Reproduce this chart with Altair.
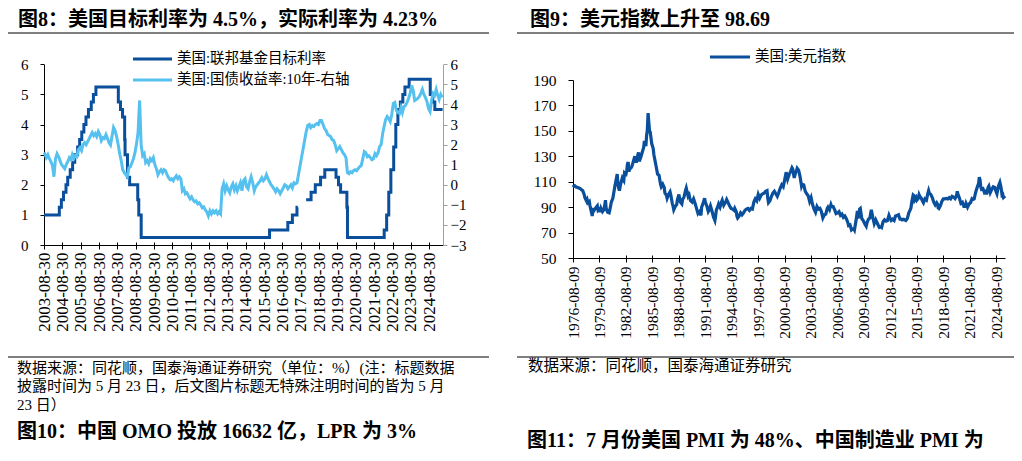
import altair as alt
import pandas as pd

DARK = "#0A4F9C"
LIGHT = "#56C1EF"
GRAY = "#7F7F7F"
NUM_FONT = "Liberation Serif"
MIX_FONT = "Liberation Serif, Noto Sans CJK SC"

# ---------------- Figure 8: US policy rate & 10Y yield ----------------
fed_dates = [
    "2003-08-30", "2004-06-30", "2004-08-10", "2004-09-21", "2004-11-10", "2004-12-14",
    "2005-02-02", "2005-03-22", "2005-05-03", "2005-06-30", "2005-08-09", "2005-09-20",
    "2005-11-01", "2005-12-13", "2006-01-31", "2006-03-28", "2006-05-10", "2006-06-29",
    "2007-09-18", "2007-10-31", "2007-12-11", "2008-01-22", "2008-01-30", "2008-03-18",
    "2008-04-30", "2008-10-08", "2008-10-29", "2008-12-16", "2015-12-16", "2016-12-14",
    "2017-03-15", "2017-06-14", "2017-06-30", "2017-07-10", "2017-12-14", "2018-03-22",
    "2018-06-14", "2018-09-27", "2018-12-20", "2019-08-01", "2019-09-19", "2019-10-31",
    "2020-03-04", "2020-03-16", "2022-03-17", "2022-05-05", "2022-06-16", "2022-07-28",
    "2022-09-22", "2022-11-03", "2022-12-15", "2023-02-02", "2023-03-23", "2023-05-04",
    "2023-07-27", "2024-09-19", "2024-11-08", "2024-12-19", "2025-05-23",
]
fed_rates = [
    1.0, 1.25, 1.5, 1.75, 2.0, 2.25,
    2.5, 2.75, 3.0, 3.25, 3.5, 3.75,
    4.0, 4.25, 4.5, 4.75, 5.0, 5.25,
    4.75, 4.5, 4.25, 3.5, 3.0, 2.25,
    2.0, 1.5, 1.0, 0.25, 0.5, 0.75,
    1.0, 1.25, 1.25, None, 1.5, 1.75,
    2.0, 2.25, 2.5, 2.25, 2.0, 1.75,
    1.25, 0.25, 0.5, 1.0, 1.75, 2.5,
    3.25, 4.0, 4.5, 4.75, 5.0, 5.25,
    5.5, 5.0, 4.75, 4.5, 4.5,
]

ust_first_date = "2003-08-30"
ust_monthly_from = "2003-09-15"
ust_values = [
    1.6,
    1.55, 1.35, 1.5, 1.3,                                                   # 2003 Sep-Dec
    1.15, 0.95, 0.4, 1.3, 1.55, 1.4, 1.2, 1.0, 0.9, 0.8, 1.0, 1.15,         # 2004
    1.35, 1.25, 1.5, 1.3, 1.45, 1.4, 1.75, 1.85, 1.7, 2.0, 2.1, 2.0,        # 2005
    2.15, 2.3, 2.45, 2.6, 2.45, 2.55, 2.4, 2.65, 2.5, 2.2, 2.35, 2.3,       # 2006
    2.5, 2.3, 2.1, 1.98, 2.4, 2.85, 2.7, 2.4, 2.0, 1.55, 1.2, 0.75,         # 2007
    0.6, 0.5, 0.4, 0.85, 0.9, 1.1, 1.3, 1.6, 2.05, 2.6, 4.2, 2.0,           # 2008
    1.45, 1.55, 1.1, 1.2, 1.05, 1.3, 1.2, 1.35, 1.0, 0.8, 0.5, 0.65,        # 2009
    0.75, 0.6, 0.75, 0.7, 0.5, 0.35, 0.25, 0.3, 0.2, 0.35, 0.45, 0.3,       # 2010
    0.4, 0.3, -0.3, -0.2, -0.45, -0.4, -0.55, -0.7, -0.6, -0.75, -0.85, -0.8,   # 2011
    -0.95, -0.9, -1.0, -1.15, -1.1, -1.25, -1.35, -1.55, -1.3, -1.45, -1.3, -1.4,  # 2012
    -1.3, -1.45, -1.35, -1.45, -0.2, 0.05, -0.3, -0.05, -0.25, -0.4, -0.1, 0.05,  # 2013
    -0.25, -0.05, -0.3, -0.1, 0.1, -0.3, 0.2, 0.3, -0.1, -0.2, 0.15, 0.4,   # 2014
    0.1, -0.3, -0.1, 0.0, 0.1, 0.2, 0.35, 0.2, 0.3, 0.5, 0.3, 0.15,         # 2015
    0.0, -0.1, -0.2, -0.35, -0.2, -0.3, -0.45, -0.3, -0.15, 0.0, -0.05, -0.2,  # 2016
    -0.1, 0.0, -0.15, 0.1, 0.05, 0.1, None, None, None, None, None, 2.65,   # 2017
    2.95, 3.0, 2.85, 2.95, 2.9, 3.0, 3.05, 3.0, 3.2, 3.2, 3.0, 2.8,         # 2018
    2.7, 2.5, 2.45, 2.4, 2.25, 2.2, 2.0, 1.7, 1.8, 1.9, 1.75, 1.6,          # 2019
    1.5, 1.35, 0.6, 0.55, 0.65, 0.6, 0.7, 0.75, 0.7, 0.8, 0.9, 0.95,        # 2020
    1.3, 1.65, 1.6, 1.4, 1.45, 1.35, 1.25, 1.3, 1.55, 1.45, 1.6, 1.9,       # 2021
    2.0, 2.55, 2.9, 3.25, 3.4, 3.3, 3.15, 3.5, 4.05, 4.1, 3.7, 3.6,         # 2022
    3.55, 3.85, 3.6, 3.9, 3.95, 4.1, 4.3, 4.55, 4.95, 4.7, 4.2, 4.25,       # 2023
    4.3, 4.4, 4.55, 4.75, 4.5, 4.35, 4.15, 3.8, 3.65, 4.2, 4.55, 4.45,      # 2024
    4.75, 4.45, 4.25, 4.5, 4.35,                                            # 2025
]
left_tick_years = list(range(2003, 2025))
left_y_ticks = [0, 1, 2, 3, 4, 5, 6]
right_y_ticks = [-3, -2, -1, 0, 1, 2, 3, 4, 5, 6]

# ---------------- Figure 9: US dollar index ----------------
dxy_months = [
    "1976-08", "1976-09", "1976-10", "1976-12",
    "1977-02", "1977-04", "1977-06", "1977-07", "1977-09", "1977-11", "1977-12",
    "1978-02", "1978-03", "1978-04", "1978-06", "1978-07", "1978-08", "1978-10", "1978-11", "1978-12",
    "1979-01", "1979-03", "1979-05", "1979-06", "1979-08", "1979-09", "1979-10", "1979-12",
    "1980-02", "1980-04", "1980-05", "1980-07", "1980-09", "1980-10", "1980-12",
    "1981-02", "1981-03", "1981-05", "1981-06", "1981-08", "1981-09", "1981-10", "1981-11", "1981-12",
    "1982-01", "1982-03", "1982-05", "1982-06", "1982-08", "1982-09", "1982-10", "1982-11", "1982-12",
    "1983-01", "1983-03", "1983-04", "1983-06", "1983-08", "1983-09", "1983-10", "1983-12",
    "1984-01", "1984-02", "1984-04", "1984-06", "1984-08", "1984-09", "1984-10", "1984-11", "1984-12",
    "1985-01", "1985-02", "1985-03", "1985-04", "1985-05", "1985-07", "1985-09", "1985-10", "1985-12",
    "1986-01", "1986-03", "1986-05", "1986-07", "1986-08", "1986-10", "1986-12",
    "1987-01", "1987-03", "1987-04", "1987-06", "1987-08", "1987-09", "1987-11", "1987-12",
    "1988-01", "1988-03", "1988-05", "1988-06", "1988-08", "1988-10", "1988-12",
    "1989-01", "1989-03", "1989-05", "1989-06", "1989-08", "1989-09", "1989-11", "1989-12",
    "1990-02", "1990-04", "1990-06", "1990-08", "1990-10", "1990-12",
    "1991-02", "1991-03", "1991-05", "1991-07", "1991-08", "1991-10", "1991-12",
    "1992-01", "1992-03", "1992-05", "1992-07", "1992-09", "1992-10", "1992-11", "1992-12",
    "1993-02", "1993-04", "1993-06", "1993-07", "1993-09", "1993-11", "1993-12",
    "1994-01", "1994-03", "1994-05", "1994-07", "1994-09", "1994-11", "1994-12",
    "1995-02", "1995-03", "1995-04", "1995-06", "1995-08", "1995-10", "1995-12",
    "1996-02", "1996-04", "1996-06", "1996-08", "1996-10", "1996-12",
    "1997-02", "1997-04", "1997-06", "1997-08", "1997-10", "1997-12",
    "1998-02", "1998-04", "1998-06", "1998-08", "1998-09", "1998-10", "1998-12",
    "1999-02", "1999-04", "1999-06", "1999-08", "1999-10", "1999-12",
    "2000-02", "2000-04", "2000-06", "2000-08", "2000-10", "2000-12",
    "2001-02", "2001-04", "2001-06", "2001-07", "2001-09", "2001-11", "2001-12",
    "2002-01", "2002-03", "2002-05", "2002-07", "2002-08", "2002-10", "2002-12",
    "2003-02", "2003-04", "2003-06", "2003-08", "2003-10", "2003-12",
    "2004-02", "2004-04", "2004-06", "2004-08", "2004-10", "2004-12",
    "2005-02", "2005-04", "2005-06", "2005-07", "2005-09", "2005-11", "2005-12",
    "2006-02", "2006-04", "2006-06", "2006-08", "2006-10", "2006-12",
    "2007-02", "2007-04", "2007-06", "2007-08", "2007-10", "2007-11",
    "2008-01", "2008-03", "2008-04", "2008-06", "2008-07", "2008-09", "2008-11", "2008-12",
    "2009-02", "2009-03", "2009-05", "2009-07", "2009-09", "2009-11", "2009-12",
    "2010-02", "2010-04", "2010-06", "2010-08", "2010-10", "2010-12",
    "2011-02", "2011-04", "2011-05", "2011-07", "2011-08", "2011-10", "2011-12",
    "2012-02", "2012-04", "2012-06", "2012-07", "2012-09", "2012-11",
    "2013-01", "2013-03", "2013-05", "2013-07", "2013-09", "2013-11", "2013-12",
    "2014-02", "2014-04", "2014-05", "2014-07", "2014-09", "2014-11", "2014-12",
    "2015-01", "2015-03", "2015-04", "2015-05", "2015-07", "2015-08", "2015-10", "2015-11", "2015-12",
    "2016-02", "2016-04", "2016-05", "2016-07", "2016-09", "2016-11", "2016-12",
    "2017-01", "2017-03", "2017-05", "2017-07", "2017-09", "2017-11", "2017-12",
    "2018-01", "2018-02", "2018-04", "2018-06", "2018-08", "2018-10", "2018-12",
    "2019-02", "2019-04", "2019-06", "2019-08", "2019-10", "2019-12",
    "2020-02", "2020-03", "2020-04", "2020-06", "2020-08", "2020-10", "2020-12",
    "2021-02", "2021-03", "2021-05", "2021-07", "2021-09", "2021-11", "2021-12",
    "2022-02", "2022-04", "2022-05", "2022-07", "2022-08", "2022-09", "2022-10", "2022-11", "2022-12",
    "2023-02", "2023-04", "2023-06", "2023-07", "2023-09", "2023-10", "2023-12",
    "2024-02", "2024-04", "2024-06", "2024-08", "2024-09", "2024-11", "2024-12",
    "2025-01", "2025-02", "2025-03", "2025-04", "2025-05", "2025-06", "2025-07", "2025-08",
]
dxy_values = [
    107.5, 106.5, 106.8, 105.8,
    105.5, 105, 104.5, 103.8, 103, 100, 97.5,
    95, 96, 93.5, 94.5, 91, 88.5, 83, 89.5, 87,
    88, 89.5, 91, 87.5, 88.5, 86, 89, 86.5,
    88, 95.5, 89, 86, 85.5, 88, 94,
    97, 100, 107, 110, 116, 108, 105, 103, 106,
    109, 113, 111, 117, 116, 119, 124, 125.5, 118,
    120, 121, 122, 126, 130, 127, 125, 131,
    133, 126, 129, 133, 137, 142, 140, 138, 146,
    151, 164, 157, 150, 149, 140, 136, 131, 125,
    122, 116, 115, 108, 106, 108, 105.5,
    101, 99.5, 97, 100, 102, 99.5, 93, 91,
    88, 90.5, 92, 96, 100, 94, 92.5,
    96, 98, 103, 105, 100, 102, 96.5, 95,
    94, 96.5, 93, 89, 85, 86.5,
    83.5, 90, 93, 97, 94, 91, 86.5,
    87.5, 91, 87, 82.5, 79.5, 83, 88, 89,
    92.5, 90, 94, 95.5, 91.5, 93.5, 94.5,
    96, 93.5, 91, 89, 88.5, 87.5, 89,
    86.5, 83, 81.5, 83, 85.5, 84, 85.5,
    87.5, 88.5, 89, 87.5, 89, 88.5,
    94, 96.5, 95, 100, 97, 99.5,
    100.5, 101, 102.5, 103, 97, 93.5, 95,
    98.5, 101, 102.5, 100.5, 98.5, 101.5,
    105, 107.5, 106, 111.5, 117.5, 112,
    115.5, 118, 121, 120, 113, 117.5, 118.5,
    120.5, 119, 114, 106.5, 108, 107.5, 102.5,
    100.5, 99, 94.5, 97.5, 92, 88.5,
    86, 90.5, 88.5, 89, 86.5, 81.5,
    84, 84.5, 89, 90, 88, 92, 90.5,
    90.5, 88, 85, 85.5, 86.5, 83.5,
    84.5, 82, 83, 81, 78, 75.5,
    76, 72, 72.5, 73, 72, 79, 87, 81,
    88.5, 89, 81, 79.5, 77, 75, 77.5,
    80.5, 81.5, 88, 82, 77, 80,
    77.5, 75, 74, 74.5, 74, 78.5, 80,
    79, 79.5, 83.5, 82, 79.5, 80.5,
    79.5, 83, 83.5, 84, 80.5, 80.5, 80,
    80.5, 79.8, 79.5, 81, 85.5, 88, 89.5,
    94, 99.5, 99, 95.5, 97.5, 95.5, 97, 99.8, 98.5,
    97, 94.5, 93.5, 96.5, 95.5, 101, 103,
    101, 100, 97.5, 94, 91.8, 93.5, 92.5,
    89.5, 89, 91, 94.5, 96.5, 96.5, 96.8,
    96.5, 97.5, 96.5, 98.5, 98, 96.8,
    99, 102.5, 100, 97, 93, 93.8, 90.5,
    90.5, 92.8, 90, 92.5, 93.5, 96.5, 96,
    96.5, 101.5, 103.5, 107, 108.5, 113.5, 111.5, 106, 104,
    104.5, 101.5, 102.5, 100, 105.5, 106.5, 101.5,
    104, 106, 105.5, 102, 100.5, 106.5, 108,
    109.5, 107, 104, 99.5, 100, 97.5, 98, 98.7,
]
dxy_tick_years = list(range(1976, 2025, 3))
dxy_y_ticks = [50, 70, 90, 110, 130, 150, 170, 190]

# ---------------- tables ----------------
fed_df = pd.DataFrame({"date": pd.to_datetime(fed_dates), "rate": fed_rates})
ust_dates = [pd.Timestamp(ust_first_date)] + [
    pd.Timestamp(ust_monthly_from) + pd.DateOffset(months=i) for i in range(len(ust_values) - 1)
]
ust_df = pd.DataFrame({"date": ust_dates, "yld": ust_values}).dropna()
dxy_df = pd.DataFrame({"date": pd.to_datetime([m + "-15" for m in dxy_months]), "dxy": dxy_values})
one = pd.DataFrame({"k": [0]})

# ---------------- scales ----------------
L_X = alt.Scale(domain=[alt.DateTime(year=2003, month=8, date=30), alt.DateTime(year=2025, month=5, date=31)],
                range=[36, 435], nice=False)
L_Y = alt.Scale(domain=[0, 6], range=[237, 56.3], nice=False, zero=False)
R_Y = alt.Scale(domain=[-3, 6], range=[237, 56.3], nice=False, zero=False)
D_X = alt.Scale(domain=[alt.DateTime(year=1976, month=8, date=9), alt.DateTime(year=2025, month=8, date=15)],
                range=[565, 997], nice=False)
D_Y = alt.Scale(domain=[50, 190], range=[250, 72], nice=False, zero=False)

common_axis = dict(grid=False, title=None, labelFont=NUM_FONT, labelColor="black",
                   tickColor="black", domainColor="black", labelOverlap=False, labelFlush=False)

fed_layer = alt.Chart(fed_df).mark_line(interpolate="step-after", color=DARK, strokeWidth=3).encode(
    x=alt.X("date:T", scale=L_X, axis=alt.Axis(
        orient="bottom", offset=-208, values=[alt.DateTime(year=y, month=8, date=30) for y in left_tick_years],
        format="%Y-%m-%d", labelAngle=270, labelFontSize=17, labelPadding=3, tickSize=4, **common_axis)),
    y=alt.Y("rate:Q", scale=L_Y, axis=alt.Axis(
        orient="left", offset=-36, values=left_y_ticks, labelFontSize=15, labelPadding=12, tickSize=4,
        **common_axis)),
)
ust_layer = alt.Chart(ust_df).mark_line(color=LIGHT, strokeWidth=3).encode(
    x=alt.X("date:T", scale=L_X, axis=alt.Axis(
        orient="top", offset=-237, values=[alt.DateTime(year=y, month=8, date=30) for y in left_tick_years],
        labels=False, domain=False, tickSize=3, grid=False, title=None, tickColor="black")),
    y=alt.Y("yld:Q", scale=R_Y, axis=alt.Axis(
        orient="right", offset=-571, values=right_y_ticks, labelFontSize=15, labelPadding=3, tickSize=4,
        grid=False, title=None, labelFont=NUM_FONT, labelColor="black", tickColor="#A0A0A0",
        domainColor="#A0A0A0")),
)
dxy_layer = alt.Chart(dxy_df).mark_line(color=DARK, strokeWidth=3.2).encode(
    x=alt.X("date:T", scale=D_X, axis=alt.Axis(
        orient="bottom", offset=-195, values=[alt.DateTime(year=y, month=8, date=9) for y in dxy_tick_years],
        format="%Y-%m-%d", labelAngle=270, labelFontSize=15.5, labelPadding=4, tickSize=4, **common_axis)),
    y=alt.Y("dxy:Q", scale=D_Y, axis=alt.Axis(
        orient="left", offset=-565, values=dxy_y_ticks, labelFontSize=15.5, labelPadding=12, tickSize=5,
        **common_axis)),
)
dxy_ticks_layer = alt.Chart(dxy_df).mark_line(opacity=0).encode(
    x=alt.X("date:T", scale=D_X, axis=alt.Axis(
        orient="top", offset=-250, values=[alt.DateTime(year=y, month=8, date=9) for y in dxy_tick_years],
        labels=False, domain=False, tickSize=3, grid=False, title=None, tickColor="black")),
    y=alt.Y("dxy:Q", scale=D_Y, axis=None),
)


def text(t, x, y, size, weight="normal", font=MIX_FONT):
    return alt.Chart(one).mark_text(text=t, align="left", baseline="middle", fontSize=size,
                                    fontWeight=weight, font=font, color="black").encode(
        x=alt.value(x), y=alt.value(y))


def hrule(x1, x2, y, color=GRAY, w=2):
    return alt.Chart(one).mark_rule(color=color, strokeWidth=w).encode(
        x=alt.value(x1), x2=alt.value(x2), y=alt.value(y))


decor = [
    text("图8：美国目标利率为 4.5%，实际利率为 4.23%", 10, 12, 20, "bold"),
    text("图9：美元指数上升至 98.69", 522, 12, 20, "bold"),
    hrule(0, 481, 25), hrule(509, 1006, 25),
    hrule(125, 164, 51, DARK, 3), text("美国:联邦基金目标利率", 169, 51, 14.5),
    hrule(125, 164, 72, LIGHT, 3), text("美国:国债收益率:10年-右轴", 169, 72, 14.5),
    hrule(702, 742, 49, DARK, 3), text("美国:美元指数", 747, 49, 14.5),
    hrule(0, 481, 349), hrule(509, 1006, 349),
    text("数据来源：同花顺，国泰海通证券研究（单位：%）(注：标题数据", 9, 359.5, 15),
    text("披露时间为 5 月 23 日，后文图片标题无特殊注明时间的皆为 5 月", 9, 378, 15),
    text("23 日）", 9, 397, 15),
    text("数据来源：同花顺，国泰海通证券研究", 520, 358, 15.5),
    text("图10：中国 OMO 投放 16632 亿，LPR 为 3%", 9, 424, 20, "bold"),
    text("图11：7 月份美国 PMI 为 48%、中国制造业 PMI 为", 519, 433, 20, "bold"),
]

chart = alt.layer(fed_layer, ust_layer, dxy_layer, dxy_ticks_layer, *decor).resolve_scale(
    x="independent", y="independent"
).properties(
    width=1006, height=445, padding=0, autosize=alt.AutoSizeParams(type="none")
).configure_view(stroke=None)

chart.save("out.html", embed_options={"renderer": "svg", "actions": False})
